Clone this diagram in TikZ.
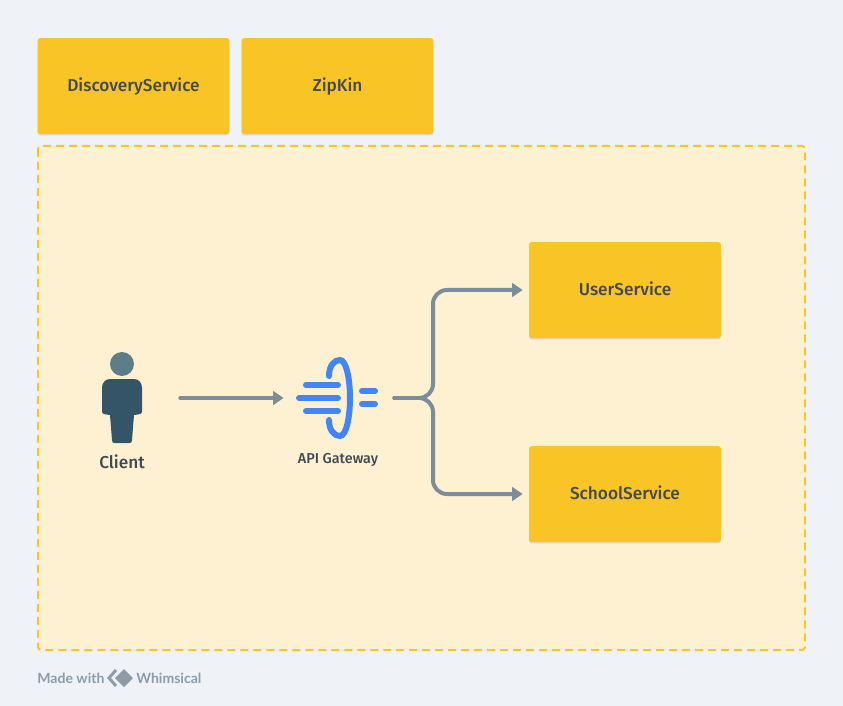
\documentclass[tikz,border=0pt]{standalone}
\usepackage{fontspec}
\setmainfont{Fira Sans}[BoldFont={Fira Sans Medium}]
\newfontfamily\footfont{Lato}
\usetikzlibrary{arrows.meta,shadows}
\definecolor{pageGray}{RGB}{239,243,247}
\definecolor{boxGold}{RGB}{249,196,37}
\definecolor{zoneCream}{RGB}{253,241,209}
\definecolor{flowGray}{RGB}{123,140,154}
\definecolor{textSlate}{RGB}{63,74,84}
\definecolor{footGray}{RGB}{142,155,168}
\definecolor{headTeal}{RGB}{93,125,137}
\definecolor{bodySlate}{RGB}{52,84,104}
\definecolor{gateBlue}{RGB}{66,133,244}
\tikzset{
  servicebox/.style={fill=boxGold,rounded corners=1.7pt,minimum width=3.84cm,minimum height=1.92cm,
    inner sep=0pt,text=textSlate,text height=8.8pt,text depth=2pt,font=\fontsize{9.8}{11}\selectfont\bfseries,
    drop shadow={shadow xshift=0pt,shadow yshift=-0.8pt,opacity=0.12,fill=black}},
  iconlabel/.style={text=textSlate,inner sep=0pt,font=\fontsize{9.8}{11}\selectfont\bfseries},
  iconslot/.style={inner sep=0pt,minimum height=1.6cm},
  flow/.style={draw=flowGray,line width=0.08cm,line cap=round,shorten <=0.04cm,-{Triangle[length=0.21cm,width=0.27cm]}},
  gateline/.style={draw=gateBlue,line width=0.12cm,line cap=round},
  footnote/.style={text=footGray,inner sep=0pt,font=\footfont\fontsize{8}{9}\selectfont\bfseries},
}
\begin{document}
\begin{tikzpicture}[x=0.02cm,y=-0.02cm]
    \fill[pageGray] (0,0) rectangle (843,706);
    \useasboundingbox (0,0) rectangle (843,706);
    % dashed zone
    \draw[boxGold,fill=zoneCream,line width=0.04cm,dash pattern=on 0.16cm off 0.1cm,rounded corners=1.7pt] (38,146) rectangle (805,650);
    % top row
    \node[servicebox] (discoveryService) at (133.5,86) {DiscoveryService};
    \node[servicebox] (zipKin) at (337.5,86) {ZipKin};
    % right column
    \node[servicebox] (userService) at (625,290) {UserService};
    \node[servicebox] (schoolService) at (625,494) {SchoolService};
    % client figure
    \fill[headTeal] (122,364) circle (12);
    \fill[bodySlate] (110,379) -- (134,379) .. controls (139,379) and (142,383) .. (142,388) -- (142,412)
      .. controls (142,414) and (141,414) .. (134,415) -- (132,440) .. controls (132,443) and (131,443) .. (129,443)
      -- (115,443) .. controls (113,443) and (112,443) .. (112,440) -- (110,415)
      .. controls (103,414) and (102,414) .. (102,412) -- (102,388) .. controls (102,383) and (105,379) .. (110,379) -- cycle;
    \node[iconslot,minimum width=2.24cm] (clientIcon) at (122,398) {};
    \node[iconlabel] (clientLabel) at (122,461.5) {Client};
    % gateway figure
    \draw[gateline] (329,376) .. controls (329,366) and (334,360) .. (340,360) .. controls (346,360) and (350,378) .. (350,398)
      .. controls (350,418) and (346,436) .. (340,436) .. controls (334,436) and (329,430) .. (329,420);
    \foreach \y/\xstart in {385/306,398/299,411/306}{
      \draw[gateline] (\xstart,\y) -- (338,\y);
    }
    \foreach \y in {391,404}{
      \draw[gateline] (362,\y) -- (375,\y);
    }
    \node[iconslot,minimum width=2.16cm] (gatewayIcon) at (338,398) {};
    \node[iconlabel,font=\fontsize{8.2}{9}\selectfont\bfseries] (gatewayLabel) at (338,459.5) {API Gateway};
    % connectors
    \coordinate (busTurn) at (433,398);
    \draw[flow] (clientIcon) -- (gatewayIcon);
    \draw[flow,rounded corners=0.28cm,shorten >=0.12cm] (gatewayIcon.east) -- (busTurn) -- (busTurn |- userService.west) -- (userService.west);
    \draw[flow,rounded corners=0.28cm,shorten >=0.12cm] (gatewayIcon.east) -- (busTurn) -- (busTurn |- schoolService.west) -- (schoolService.west);
    % footer
    \node[footnote,anchor=west] (madeWith) at (37,678) {Made with};
    \draw[footGray,line width=0.06cm] (116,670) -- (109,678) -- (116,686);
    \fill[footGray] (124,669) -- (133,678) -- (124,687) -- (115,678) -- cycle;
    \node[footnote,anchor=west] (whimsical) at (136,678) {Whimsical};
\end{tikzpicture}
\end{document}
